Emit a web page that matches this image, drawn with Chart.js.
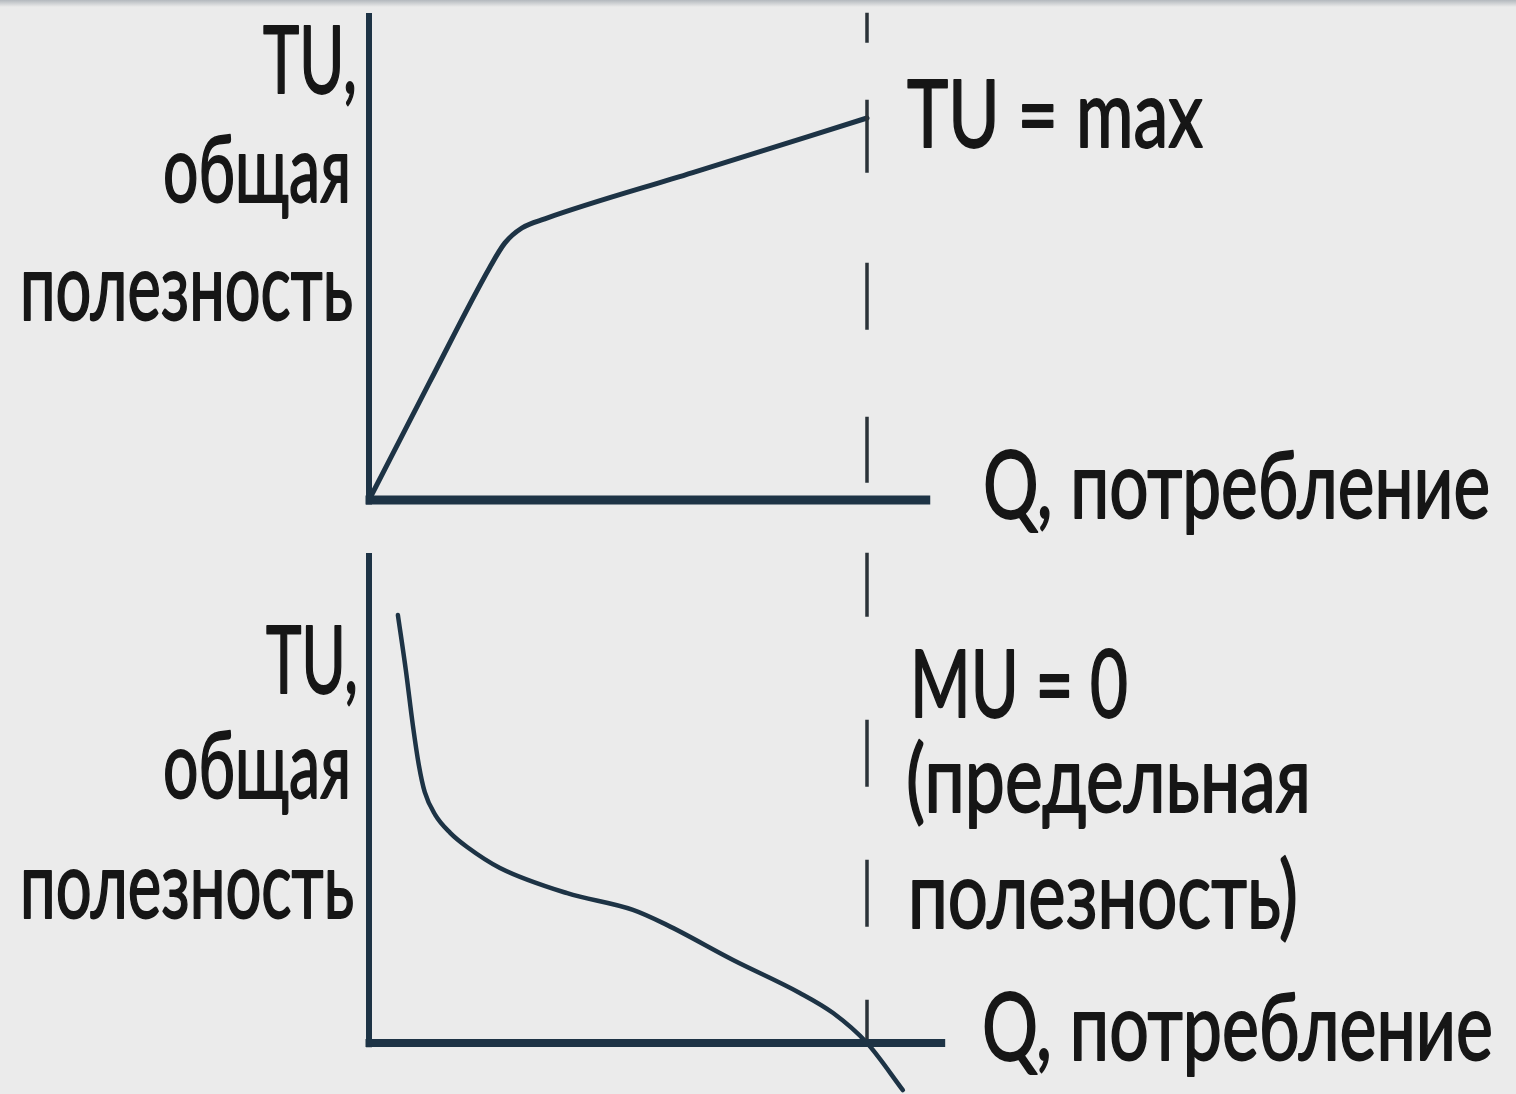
<!DOCTYPE html>
<html>
<head>
<meta charset="utf-8">
<script src="https://cdn.jsdelivr.net/npm/chart.js@4.4.1/dist/chart.umd.min.js"></script>
<style>
  html, body { margin: 0; padding: 0; background: #ebebeb; }
  #wrap { position: relative; width: 1516px; height: 1094px; overflow: hidden; background: #ebebeb; }
  #topband { position: absolute; left: 0; top: 0; width: 1516px; height: 7px;
             background: linear-gradient(#b3b8bd, #ebebeb); }
  #c { position: absolute; left: 0; top: 0; }
  #labels { position: absolute; left: 0; top: 0; }
  #labels text { font-family: "Lato", "Liberation Sans", sans-serif; font-size: 94px; fill: #161616;
                 stroke: #161616; stroke-width: 1.8px; stroke-linejoin: round; }
</style>
</head>
<body>
<div id="wrap">
  <div id="topband"></div>
  <canvas id="c" width="1516" height="1094"></canvas>
  <svg id="labels" width="1516" height="1094" xmlns="http://www.w3.org/2000/svg">
    <text x="263" y="93" textLength="94" lengthAdjust="spacingAndGlyphs">TU,</text>
    <text x="163" y="202" textLength="188" lengthAdjust="spacingAndGlyphs">общая</text>
    <text x="20" y="320" textLength="333" lengthAdjust="spacingAndGlyphs">полезность</text>
    <text x="907" y="147" textLength="296" lengthAdjust="spacingAndGlyphs">TU = max</text>
    <text x="983" y="518" textLength="507" lengthAdjust="spacingAndGlyphs">Q, потребление</text>

    <text x="266" y="693" textLength="92" lengthAdjust="spacingAndGlyphs">TU,</text>
    <text x="163" y="798" textLength="188" lengthAdjust="spacingAndGlyphs">общая</text>
    <text x="20" y="918" textLength="334" lengthAdjust="spacingAndGlyphs">полезность</text>
    <text x="910" y="717" textLength="218" lengthAdjust="spacingAndGlyphs">MU = 0</text>
    <text x="906" y="812" textLength="405" lengthAdjust="spacingAndGlyphs">(предельная</text>
    <text x="908" y="928" textLength="390" lengthAdjust="spacingAndGlyphs">полезность)</text>
    <text x="982" y="1060" textLength="511" lengthAdjust="spacingAndGlyphs">Q, потребление</text>
  </svg>
</div>
<script>
// ---- Data ----
// Upper panel: total utility curve TU(Q)
const tuQ  = [0, 1.22, 2.43, 2.73, 3.07, 3.53, 6.5, 10];
const tuVal = [0, 3.09, 6.10, 6.73, 7.12, 7.36, 8.57, 10];

// Lower panel: marginal utility curve MU(Q)
const muQ  = [0.58, 0.74, 0.88, 1.00, 1.12, 1.33, 1.63, 1.97, 2.63, 3.98, 5.30, 5.98, 7.31, 8.65, 9.32, 10.0, 10.72];
const muVal = [10.0, 8.71, 7.43, 6.50, 5.86, 5.33, 4.91, 4.58, 4.09, 3.50, 3.11, 2.76, 1.94, 1.17, 0.70, 0.0, -1.10];

// Axes extents (in data units)
const topAxisYQ = [0, 0],         topAxisYVal = [12.75, -0.12];
const topAxisXQ = [-0.07, 11.27], topAxisXVal = [0, 0];
const botAxisYQ = [0, 0],         botAxisYVal = [11.45, -0.1];
const botAxisXQ = [-0.07, 11.57], botAxisXVal = [0, 0];

// Dashed guide at Q where TU = max and MU = 0 (lower-panel units)
const guideQ = [10, 10];
const guideVal = [24.07, 0];

// ---- Layout (pixel mapping of the panels) ----
const W = 1516, H = 1094;
const L = { x0: 369, qUnit: 49.8, topZero: 500, topUnit: 38.2, botZero: 1043, botUnit: 42.8 };

const ink = '#1d3345';
function pts(xs, ys) { return xs.map((x, i) => ({ x: x, y: ys[i] })); }

new Chart(document.getElementById('c'), {
  type: 'line',
  data: {
    datasets: [
      { label: 'TU axis Y', data: pts(topAxisYQ, topAxisYVal), yAxisID: 'yTop', borderColor: ink, borderWidth: 6, borderCapStyle: 'butt' },
      { label: 'TU axis X', data: pts(topAxisXQ, topAxisXVal), yAxisID: 'yTop', borderColor: ink, borderWidth: 9, borderCapStyle: 'butt' },
      { label: 'MU axis Y', data: pts(botAxisYQ, botAxisYVal), yAxisID: 'yBot', borderColor: ink, borderWidth: 6, borderCapStyle: 'butt' },
      { label: 'MU axis X', data: pts(botAxisXQ, botAxisXVal), yAxisID: 'yBot', borderColor: ink, borderWidth: 8, borderCapStyle: 'butt' },
      { label: 'guide', data: pts(guideQ, guideVal), yAxisID: 'yBot', borderColor: '#2a3238', borderWidth: 3.5,
        borderCapStyle: 'butt',
        borderDash: [30, 57, 73, 90, 67, 87, 66, 70, 64, 103, 67, 73, 67, 73, 60, 40] },
      { label: 'TU', data: pts(tuQ, tuVal), yAxisID: 'yTop', borderColor: ink, borderWidth: 5,
        cubicInterpolationMode: 'monotone', borderCapStyle: 'round', borderJoinStyle: 'round' },
      { label: 'MU', data: pts(muQ, muVal), yAxisID: 'yBot', borderColor: ink, borderWidth: 4.5,
        cubicInterpolationMode: 'monotone', borderCapStyle: 'round', borderJoinStyle: 'round' }
    ]
  },
  options: {
    responsive: false,
    devicePixelRatio: 1,
    animation: false,
    layout: { padding: 0 },
    elements: { point: { radius: 0, hoverRadius: 0 }, line: { fill: false } },
    plugins: { legend: { display: false }, tooltip: { enabled: false }, title: { display: false } },
    events: [],
    scales: {
      x: { type: 'linear', display: false, min: -L.x0 / L.qUnit, max: (W - L.x0) / L.qUnit },
      yTop: { type: 'linear', display: false, min: -(H - L.topZero) / L.topUnit, max: L.topZero / L.topUnit },
      yBot: { type: 'linear', display: false, min: -(H - L.botZero) / L.botUnit, max: L.botZero / L.botUnit }
    }
  }
});
</script>
</body>
</html>
